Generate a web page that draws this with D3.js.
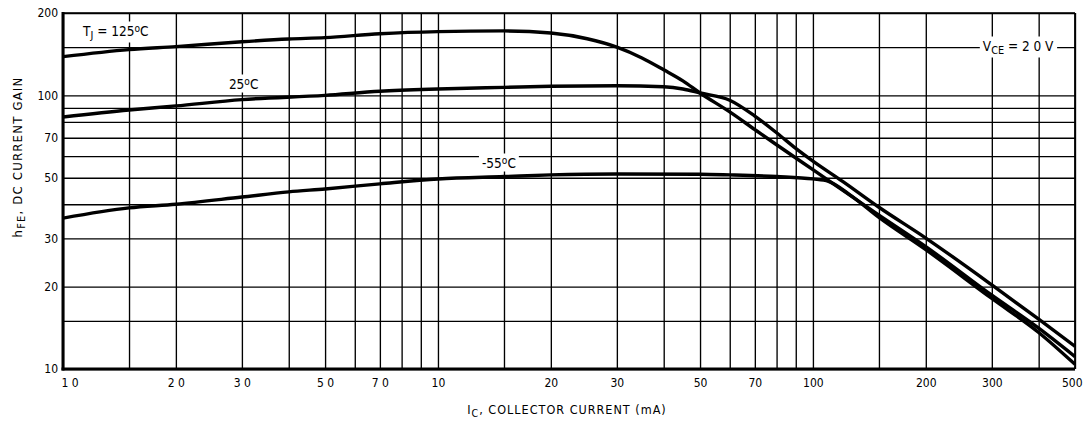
<!DOCTYPE html>
<html>
<head>
<meta charset="utf-8">
<script src="https://cdn.jsdelivr.net/npm/d3@7"></script>
<style>
  html, body { margin: 0; padding: 0; background: #fff; }
  svg { display: block; }
  text { font-family: "Liberation Sans Narrow", "DejaVu Sans", sans-serif; font-stretch: condensed; fill: #000; }
</style>
</head>
<body>
<svg id="chart" width="1084" height="424"></svg>
<script>
// ---- data ----
const xGrid = [1,1.5,2,3,4,5,6,7,8,9,10,15,20,30,40,50,60,70,80,90,100,150,200,300,400,500];
const yGrid = [10,15,20,30,40,50,60,70,80,90,100,150,200];
const xTickValues = [1,2,3,5,7,10,20,30,50,70,100,200,300,500];
const xTickLabels = ["1 0","2 0","3 0","5 0","7 0","10","20","30","50","70","100","200","300","500"];
const yTickValues = [10,20,30,50,70,100,200];
const yTickLabels = ["10","20","30","50","70","100","200"];

// T_J = 125 C
const ic125  = [1, 1.5, 2, 3, 4, 5, 7, 10, 15, 20, 25, 30, 35, 40, 45, 50, 60, 70, 80, 100, 150, 200, 300, 400, 500];
const hfe125 = [138.5, 147, 150.7, 157, 160.7, 162.6, 168, 171, 172, 169, 161, 150, 137, 124, 113, 102, 87, 75, 66, 53.5, 36.5, 28, 18.6, 14.1, 11.1];
// 25 C
const ic25   = [1, 1.5, 2, 3, 5, 7, 10, 15, 20, 30, 40, 45, 50, 60, 70, 80, 90, 100, 120, 150, 200, 300, 400, 500];
const hfe25  = [83.4, 88.4, 91.5, 96.5, 100, 103.5, 105.5, 107, 108, 108.5, 107.5, 105.5, 102, 96, 84, 73, 64, 57.5, 48.5, 39, 30.1, 20.3, 15.2, 12.1];
// -55 C
const icm55  = [1, 1.5, 2, 3, 4, 5, 7, 10, 15, 20, 30, 50, 60, 80, 100, 110, 125, 150, 200, 300, 400, 500];
const hfem55 = [35.6, 38.8, 40, 42.5, 44.4, 45.5, 47.5, 49.5, 50.5, 51.2, 51.6, 51.5, 51.2, 50.5, 49.5, 48.5, 43.5, 35.8, 27.3, 18.1, 13.6, 10.4];

// ---- layout ----
const svg = d3.select("#chart");
const m = {left: 63, top: 13, right: 9, bottom: 55};
const W = 1084 - m.left - m.right;   // 1012
const H = 424 - m.top - m.bottom;    // 356

svg.append("rect").attr("width", 1084).attr("height", 424).attr("fill", "#fff");

const x = d3.scaleLog().domain([1, 500]).range([0, W]);
const y = d3.scaleLog().domain([10, 200]).range([H, 0]);

const g = svg.append("g").attr("transform", `translate(${m.left},${m.top})`);

// gridlines
const gx = g.append("g").attr("class", "gridx").attr("transform", `translate(0,${H})`)
  .call(d3.axisBottom(x).tickValues(xGrid).tickSize(-H).tickFormat(""));
const gy = g.append("g").attr("class", "gridy")
  .call(d3.axisLeft(y).tickValues(yGrid).tickSize(-W).tickFormat(""));
[gx, gy].forEach(a => {
  a.select(".domain").remove();
  a.selectAll("line").attr("stroke", "#000").attr("stroke-width", 1.35);
});

// frame
g.append("line").attr("x1", 0).attr("x2", W).attr("y1", 0).attr("y2", 0).attr("stroke", "#000").attr("stroke-width", 1.6);
g.append("line").attr("x1", W).attr("x2", W).attr("y1", 0).attr("y2", H).attr("stroke", "#000").attr("stroke-width", 1.8);
g.append("line").attr("x1", 0).attr("x2", 0).attr("y1", -1).attr("y2", H + 1.5).attr("stroke", "#000").attr("stroke-width", 3);
g.append("line").attr("x1", -1.5).attr("x2", W).attr("y1", H).attr("y2", H).attr("stroke", "#000").attr("stroke-width", 3);

// tick labels
const ax = g.append("g").attr("transform", `translate(0,${H})`)
  .call(d3.axisBottom(x).tickValues(xTickValues).tickSize(0).tickPadding(9)
    .tickFormat((d, i) => xTickLabels[i]));
ax.select(".domain").remove();
ax.selectAll("text").attr("font-size", 12).attr("font-family", null);
ax.selectAll("text").filter((d, i) => i === 0).attr("text-anchor", "start").attr("dx", -2);
ax.selectAll("text").filter((d, i) => i === xTickValues.length - 1).attr("text-anchor", "end").attr("dx", 7);

const ay = g.append("g")
  .call(d3.axisLeft(y).tickValues(yTickValues).tickSize(0).tickPadding(5)
    .tickFormat((d, i) => yTickLabels[i]));
ay.select(".domain").remove();
ay.selectAll("text").attr("font-size", 12).attr("font-family", null);

// curves
const clip = svg.append("defs").append("clipPath").attr("id", "clip")
  .append("rect").attr("width", W).attr("height", H);
const line = d3.line().x(d => x(d[0])).y(d => y(d[1])).curve(d3.curveMonotoneX);
const series = [
  d3.zip(ic125, hfe125),
  d3.zip(ic25, hfe25),
  d3.zip(icm55, hfem55)
];
const cg = g.append("g").attr("clip-path", "url(#clip)");
series.forEach(s => {
  cg.append("path").datum(s).attr("d", line)
    .attr("fill", "none").attr("stroke", "#000").attr("stroke-width", 3.4)
    .attr("stroke-linejoin", "round");
});

// in-plot labels with white backgrounds (coordinates inside plot group)
function label(px, py, parts, fs) {
  const grp = g.append("g");
  const t = grp.append("text").attr("x", px).attr("y", py).attr("font-size", fs);
  parts.forEach(p => {
    const ts = t.append("tspan").text(p.t);
    if (p.sub) ts.attr("font-size", fs * 0.8).attr("dy", 3);
    if (p.sup) ts.attr("font-size", fs * 0.75).attr("dy", -4);
    if (p.back) ts.attr("dy", p.back);
  });
  const bb = t.node().getBBox();
  grp.insert("rect", "text").attr("x", bb.x - 3).attr("y", bb.y - 1)
    .attr("width", bb.width + 6).attr("height", bb.height + 2).attr("fill", "#fff");
}
label(20, 22.5, [{t: "T"}, {t: "J", sub: true}, {t: " = 125", back: -3}, {t: "o", sup: true}, {t: "C", back: 4}], 13.5);
label(x(3) - 13, 75.5, [{t: "25"}, {t: "o", sup: true}, {t: "C", back: 4}], 13.5);
label(x(10) + 44, 154.5, [{t: "-55"}, {t: "o", sup: true}, {t: "C", back: 4}], 13.5);
label(x(300) - 9, 37.5, [{t: "V"}, {t: "CE", sub: true}, {t: " = 2 0 V", back: -3}], 13.5);

// axis titles
const xt = svg.append("text").attr("x", m.left + W / 2 - 2).attr("y", 414)
  .attr("text-anchor", "middle").attr("font-size", 12.5).style("letter-spacing", "1px");
xt.append("tspan").text("I");
xt.append("tspan").text("C").attr("font-size", 10.5).attr("dy", 3);
xt.append("tspan").text(", COLLECTOR CURRENT (mA)").attr("dy", -3);

const yt = svg.append("text").attr("transform", "translate(22,157) rotate(-90)")
  .attr("text-anchor", "middle").attr("font-size", 13).style("letter-spacing", "1.2px");
yt.append("tspan").text("h");
yt.append("tspan").text("FE").attr("font-size", 11).attr("dy", 3);
yt.append("tspan").text(", DC CURRENT GAIN").attr("dy", -3);
</script>
</body>
</html>
